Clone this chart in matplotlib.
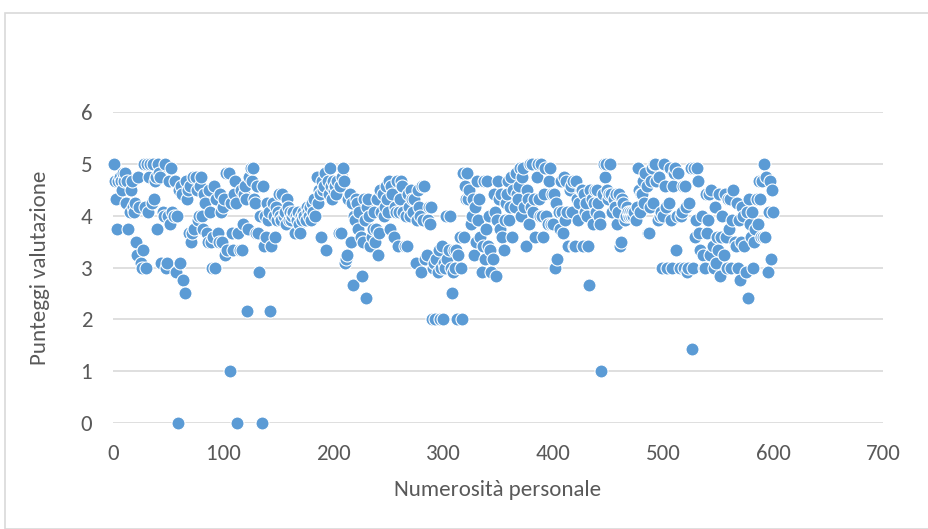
import matplotlib.pyplot as plt
from matplotlib.patches import Rectangle

plt.rcParams['font.family'] = ['Carlito', 'Liberation Sans Narrow', 'DejaVu Sans']

# punteggi, un valore per ogni posizione 1..600
punteggi = [
    5.0, 4.67, 4.33, 3.75, 4.67, 4.75, 4.67, 4.5, 4.83, 4.67,
    4.83, 4.25, 4.67, 3.75, 4.08, 4.5, 4.67, 4.17, 4.08, 4.25,
    3.5, 3.25, 4.75, 4.17, 3.08, 3.0, 3.33, 5.0, 4.17, 3.0,
    5.0, 4.08, 4.75, 5.0, 4.25, 5.0, 4.33, 4.67, 4.75, 3.75,
    5.0, 4.83, 4.75, 3.08, 4.08, 4.0, 5.0, 3.0, 3.08, 4.0,
    4.67, 3.83, 4.92, 4.08, 4.0, 4.67, 2.92, 4.0, 0.0, 4.5,
    3.08, 4.58, 4.42, 2.75, 2.5, 4.67, 4.33, 4.5, 3.67, 4.58,
    3.5, 3.67, 4.75, 3.75, 4.75, 4.5, 3.92, 4.0, 4.58, 4.75,
    4.0, 3.75, 4.42, 4.25, 3.67, 3.5, 4.5, 4.08, 3.5, 3.0,
    3.58, 4.58, 3.0, 4.33, 3.67, 3.5, 4.42, 4.08, 3.5, 4.17,
    4.33, 3.25, 4.83, 3.33, 4.83, 1.0, 4.25, 3.67, 3.33, 4.42,
    4.67, 4.25, 0.0, 3.67, 3.33, 4.5, 3.33, 3.83, 4.42, 4.58,
    4.33, 2.17, 3.75, 4.75, 4.92, 4.67, 4.92, 4.33, 4.25, 3.67,
    4.58, 3.67, 2.92, 4.0, 0.0, 4.58, 3.42, 4.0, 3.58, 4.25,
    3.92, 4.08, 2.17, 3.42, 4.25, 4.0, 3.58, 4.17, 3.92, 4.08,
    4.42, 4.0, 3.92, 4.42, 4.0, 4.08, 3.83, 4.33, 4.17, 3.92,
    4.08, 3.92, 4.0, 4.08, 3.67, 4.0, 3.92, 4.08, 3.83, 3.67,
    4.0, 3.92, 4.08, 4.0, 3.92, 4.17, 4.08, 4.0, 4.17, 3.92,
    4.25, 4.08, 4.33, 4.0, 4.75, 4.25, 4.5, 4.42, 3.58, 4.67,
    4.5, 4.58, 4.83, 3.33, 4.67, 4.42, 4.92, 4.58, 4.33, 4.67,
    4.5, 4.58, 4.42, 4.67, 3.67, 4.58, 3.67, 4.75, 4.92, 4.67,
    3.08, 3.17, 3.25, 4.33, 4.42, 3.5, 4.25, 2.67, 4.0, 3.92,
    4.33, 4.25, 3.75, 4.08, 3.58, 2.83, 3.5, 4.33, 3.92, 2.42,
    4.17, 4.33, 4.0, 3.42, 3.58, 3.75, 4.08, 3.5, 3.75, 4.33,
    3.25, 3.67, 4.5, 4.08, 4.42, 4.0, 4.17, 4.58, 4.33, 4.08,
    4.67, 3.75, 4.58, 4.42, 3.58, 4.17, 4.08, 4.67, 3.42, 4.08,
    4.33, 4.67, 4.58, 4.08, 3.42, 4.0, 3.42, 4.42, 4.17, 4.0,
    4.5, 4.33, 4.08, 4.33, 3.08, 3.92, 4.5, 4.17, 4.0, 2.92,
    4.58, 3.92, 4.58, 3.17, 3.25, 3.92, 4.17, 3.83, 4.17, 2.0,
    3.0, 3.08, 2.0, 3.17, 2.92, 3.33, 2.0, 3.0, 3.42, 2.0,
    3.08, 3.0, 4.0, 3.17, 3.33, 4.0, 3.0, 2.5, 2.92, 3.33,
    3.0, 3.33, 2.0, 3.25, 3.58, 3.0, 2.0, 4.83, 3.58, 4.58,
    4.33, 4.83, 4.33, 4.5, 3.83, 4.0, 4.33, 3.25, 4.17, 3.5,
    4.67, 3.92, 4.33, 3.58, 2.92, 3.42, 4.67, 3.17, 3.75, 4.67,
    3.42, 4.0, 3.33, 2.92, 3.17, 4.42, 4.08, 2.83, 3.92, 4.67,
    4.33, 3.75, 4.42, 3.58, 3.33, 3.92, 4.25, 4.42, 4.67, 3.92,
    4.17, 4.75, 3.58, 4.5, 4.17, 4.83, 4.42, 4.33, 4.58, 4.92,
    4.0, 4.75, 4.92, 4.17, 3.42, 4.5, 4.33, 3.83, 5.0, 4.17,
    5.0, 4.08, 4.33, 3.58, 4.75, 5.0, 4.33, 4.0, 5.0, 4.0,
    3.58, 4.42, 4.92, 4.0, 3.83, 4.67, 4.92, 3.83, 4.42, 3.83,
    4.42, 3.0, 4.25, 3.17, 4.08, 3.75, 4.67, 4.08, 3.67, 4.75,
    3.92, 4.67, 4.08, 3.42, 4.5, 4.58, 4.08, 4.67, 3.42, 3.42,
    4.67, 4.33, 3.92, 4.25, 4.5, 4.5, 3.42, 4.42, 4.08, 4.25,
    4.0, 3.42, 2.67, 4.5, 4.33, 3.83, 4.25, 4.5, 4.08, 4.5,
    4.25, 4.0, 3.83, 1.0, 4.42, 5.0, 4.75, 5.0, 4.5, 4.33,
    4.42, 5.0, 4.42, 4.08, 4.33, 4.17, 4.42, 3.83, 4.08, 4.42,
    3.42, 3.5, 4.33, 4.25, 3.92, 4.0, 4.17, 4.08, 4.0, 4.08,
    4.0, 4.08, 4.0, 4.08, 3.92, 4.17, 4.92, 4.5, 4.08, 4.42,
    4.42, 4.67, 4.25, 4.83, 4.58, 3.67, 3.67, 4.17, 4.67, 4.92,
    4.25, 5.0, 5.0, 4.67, 3.92, 4.75, 4.0, 4.08, 3.0, 4.0,
    5.0, 4.58, 4.17, 3.0, 4.25, 4.92, 3.92, 3.0, 4.58, 4.83,
    4.92, 3.33, 4.0, 4.83, 3.0, 4.0, 4.08, 4.58, 3.0, 4.58,
    4.17, 2.92, 3.0, 4.25, 4.92, 1.42, 3.0, 4.92, 3.58, 3.92,
    4.92, 4.67, 3.67, 3.33, 4.0, 3.25, 3.0, 3.0, 4.42, 3.67,
    3.92, 4.42, 3.25, 4.5, 3.42, 3.0, 4.17, 3.08, 3.58, 3.33,
    4.42, 2.83, 3.58, 4.0, 3.25, 4.42, 3.58, 3.0, 4.33, 3.75,
    4.33, 3.0, 3.92, 4.5, 3.5, 3.42, 4.25, 3.0, 3.92, 2.75,
    3.5, 4.17, 4.0, 3.42, 2.92, 4.08, 2.42, 4.33, 3.83, 3.58,
    4.08, 3.0, 3.5, 3.75, 4.33, 3.83, 4.67, 4.33, 3.58, 4.67,
    3.58, 5.0, 3.58, 4.75, 2.92, 4.08, 4.67, 3.17, 4.5, 4.08,
]
numerosita = list(range(1, len(punteggi) + 1))

x_ticks = [0, 100, 200, 300, 400, 500, 600, 700]
y_ticks = [0, 1, 2, 3, 4, 5, 6]

fig = plt.figure(figsize=(9.29, 5.29), dpi=100)
ax = fig.add_axes([113 / 929, 1 - 423 / 529, 770 / 929, 311 / 529])

# bordo del riquadro del grafico
fig.patches.append(Rectangle((5 / 929, 0), 1, 1 - 13 / 529, transform=fig.transFigure,
                             fill=False, edgecolor='#D9D9D9', linewidth=1.2))

ax.scatter(numerosita, punteggi, s=88, color='#5B9BD5', edgecolors='white',
           linewidths=0.8, zorder=3, clip_on=False)

ax.set_xlim(0, 700)
ax.set_ylim(0, 6)
ax.set_xticks(x_ticks)
ax.set_yticks(y_ticks)
ax.grid(axis='y', color='#D9D9D9', linewidth=1.2)
ax.set_axisbelow(True)
for s in ax.spines.values():
    s.set_visible(False)
ax.tick_params(length=0, labelsize=16.5, labelcolor='#595959')
ax.tick_params(axis='x', pad=15)
ax.tick_params(axis='y', pad=15)

ax.set_xlabel('Numerosità personale', fontsize=16.5, color='#595959', labelpad=12)
ax.set_ylabel('Punteggi valutazione', fontsize=16.5, color='#595959', labelpad=22)

fig.savefig('out.png', dpi=100)
